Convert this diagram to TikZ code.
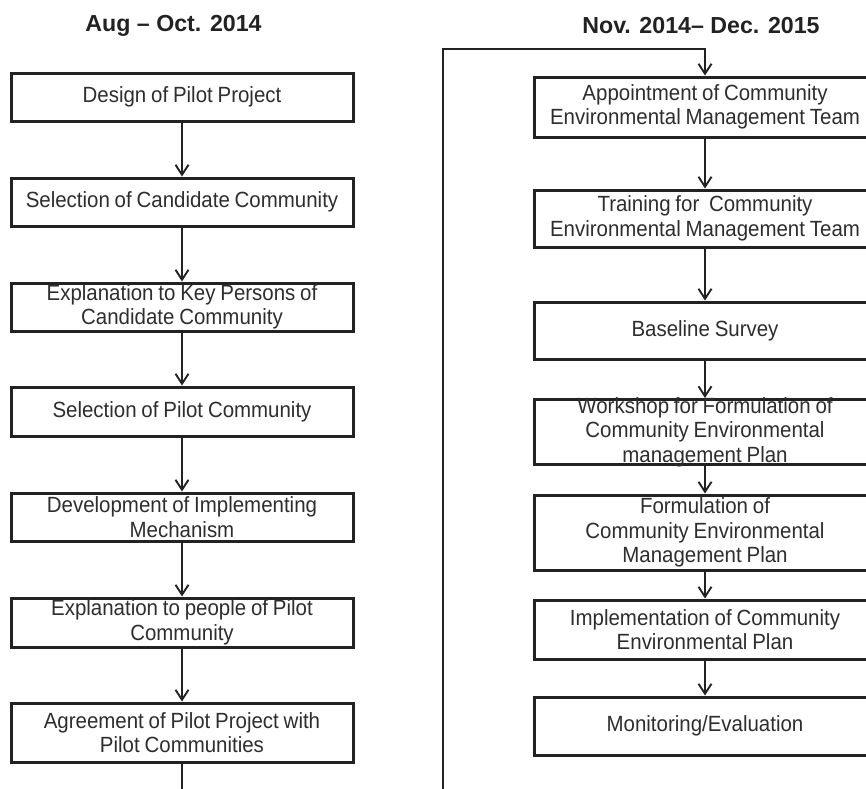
\documentclass[tikz,border=0pt]{standalone}
\usepackage{fontspec}
\setmainfont{Liberation Sans}
\newfontfamily\boxfont[FakeStretch=0.93, WordSpace=0.85]{Liberation Sans}
\usetikzlibrary{arrows.meta}
\definecolor{ink}{HTML}{222222}
\definecolor{txtgray}{HTML}{2e2e2e}
\begin{document}
\begin{tikzpicture}[x=1pt,y=-1pt,
  stage/.style={draw=ink, line width=3pt, minimum width=342pt, inner sep=0pt, fill=white},
  txt/.style={text=txtgray, font=\boxfont\fontsize{22}{24.5}\selectfont, align=center, inner sep=0pt},
  phase/.style={text=ink, font=\fontsize{23.2}{28}\selectfont\bfseries, inner sep=0pt},
  flow/.style={draw=ink, line width=1.9pt, -{Straight Barb[length=10pt,width=13pt]}}]
\useasboundingbox (0,0) rectangle (866,788);
\clip (0,0) rectangle (866,788);

% phase headings
\node[phase] (h1) at (173.5,26) {Aug -- Oct. 2014};
\node[phase] (h2) at (701,26) {Nov. 2014-- Dec. 2015};

% first phase
\node[stage, minimum height=48pt, label={[txt]center:Design of Pilot Project}] (d) at (182,97) {};
\node[stage, minimum height=48pt, label={[txt]center:Selection of Candidate Community}] (sc) at (182,202) {};
\node[stage, minimum height=48pt, label={[txt]center:{Explanation to Key Persons of\\Candidate Community}}] (ek) at (182,307) {};
\node[stage, minimum height=49pt, label={[txt]center:Selection of Pilot Community}] (sp) at (182,411.5) {};
\node[stage, minimum height=48pt, label={[txt]center:{Development of Implementing\\Mechanism}}] (dm) at (182,517) {};
\node[stage, minimum height=49pt, label={[txt]center:{Explanation to people of Pilot\\Community}}] (ep) at (182,622.5) {};
\node[stage, minimum height=59pt, label={[txt]center:{Agreement of Pilot Project with\\Pilot Communities}}] (ag) at (182,732.5) {};

% second phase
\node[stage, minimum height=60pt, label={[txt]center:{Appointment of Community\\Environmental Management Team}}] (ap) at (705,107) {};
\node[stage, minimum height=57pt, label={[txt]center:{Training for\ \ Community\\Environmental Management Team}}] (tr) at (705,218.5) {};
\node[stage, minimum height=57pt, label={[txt]center:Baseline Survey}] (bs) at (705,330.5) {};
\node[stage, minimum height=65pt, label={[txt]center:{Workshop for Formulation of\\Community Environmental\\management Plan}}] (ws) at (705,432) {};
\node[stage, minimum height=75pt, label={[txt]center:{Formulation of\\Community Environmental\\Management Plan}}] (fp) at (705,532.5) {};
\node[stage, minimum height=59pt, label={[txt]center:{Implementation of Community\\Environmental Plan}}] (ip) at (705,629.5) {};
\node[stage, minimum height=58pt, label={[txt]center:Monitoring/Evaluation}] (me) at (705,726) {};

% connectors
\draw[flow] (d.south) -- (sc.north);
\draw[flow] (sc.south) -- (ek.north);
\draw[flow] (ek.south) -- (sp.north);
\draw[flow] (sp.south) -- (dm.north);
\draw[flow] (dm.south) -- (ep.north);
\draw[flow] (ep.south) -- (ag.north);

\coordinate (turn) at (443,49);
\draw[flow] (ag.south) -- ++(0,60) -| (turn) -| (ap.north);

\draw[flow] (ap.south) -- (tr.north);
\draw[flow] (tr.south) -- (bs.north);
\draw[flow] (bs.south) -- (ws.north);
\draw[flow] (ws.south) -- (fp.north);
\draw[flow] (fp.south) -- (ip.north);
\draw[flow] (ip.south) -- (me.north);
\end{tikzpicture}
\end{document}
